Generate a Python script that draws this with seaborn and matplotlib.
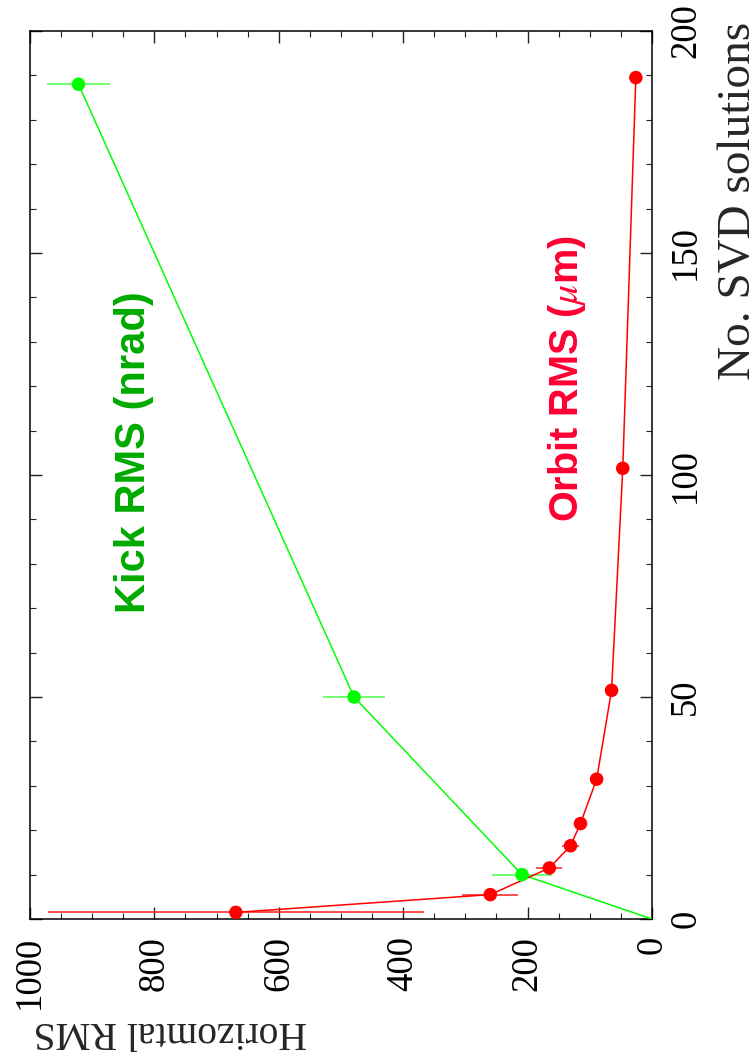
import matplotlib
matplotlib.use("Agg")
import matplotlib.pyplot as plt
import seaborn as sns
from matplotlib.ticker import MultipleLocator

# ---- data ----
svd_orbit = [1.5, 5.5, 11.5, 16.5, 21.5, 31.5, 51.5, 101.5, 189.5]
orbit_rms = [669, 260, 165, 131, 115, 89, 65, 47, 26]
orbit_err = [302, 45, 21, 13, 5, 3, 2, 1, 1]

svd_kick = [0, 10, 50, 188]
kick_rms = [0, 209, 479, 922]
kick_err = [0, 49, 50, 51]

rms_ticks = [0, 200, 400, 600, 800, 1000]
svd_ticks = [0, 50, 100, 150, 200]

sns.set_style("ticks")
plt.rcParams['font.family'] = ['Liberation Serif', 'DejaVu Serif']
plt.rcParams['mathtext.fontset'] = 'stix'

fig = plt.figure(figsize=(7.49, 10.61), dpi=100)
ax = fig.add_axes([0.0400, 0.1338, 0.8305, 0.8370])

# kick RMS (green)
ax.errorbar(kick_rms[1:], svd_kick[1:], xerr=kick_err[1:], fmt='none',
            ecolor='#66ff66', elinewidth=1.3, capsize=0, zorder=2)
sns.lineplot(x=kick_rms, y=svd_kick, sort=False, estimator=None,
             color='#00ff00', lw=1.1, ax=ax, zorder=3)
sns.scatterplot(x=kick_rms[1:], y=svd_kick[1:], color='#00ff00', s=95,
                edgecolor='none', ax=ax, zorder=4)

# orbit RMS (red)
ax.errorbar(orbit_rms, svd_orbit, xerr=orbit_err, fmt='none',
            ecolor='#ff2020', alpha=0.85, elinewidth=1.3, capsize=0, zorder=2)
sns.lineplot(x=orbit_rms, y=svd_orbit, sort=False, estimator=None,
             color='#ff0000', lw=1.1, ax=ax, zorder=3)
sns.scatterplot(x=orbit_rms, y=svd_orbit, color='#ff0000', s=95,
                edgecolor='none', ax=ax, zorder=4)

ax.set_xlim(1000, 0)
ax.set_ylim(0, 200)
ax.set_xticks(rms_ticks)
ax.set_yticks(svd_ticks)
ax.xaxis.set_minor_locator(MultipleLocator(50))
ax.yaxis.set_minor_locator(MultipleLocator(10))

ax.tick_params(which='both', direction='in', top=True, right=True, left=True,
               bottom=True, labelleft=False, labelright=True, labelbottom=True,
               colors='#222222')
ax.tick_params(which='major', length=8.6, width=1.0)
ax.tick_params(which='minor', length=4.3, width=0.8)
ax.tick_params(axis='x', labelrotation=90, labelsize=26.5, pad=12, labelcolor='black')
ax.tick_params(axis='y', labelrotation=90, labelsize=26.5, pad=12, labelcolor='black')
plt.setp(ax.get_yticklabels(), va='center')

for sp in ax.spines.values():
    sp.set_visible(True)
    sp.set_color('black')
    sp.set_linewidth(1.1)

ax.set_xlabel("Horizomtal RMS", rotation=180, fontsize=28.5, va='center', ha='center')
ax.xaxis.set_label_coords(0.225, -0.127)
ax.yaxis.set_label_position('right')
ax.set_ylabel("No. SVD solutions", rotation=90, fontsize=34, va='center', ha='center')
ax.yaxis.set_label_coords(1.140, 0.809)

ax.text(0.167, 0.526, "Kick RMS (nrad)", transform=ax.transAxes, rotation=90,
        ha='center', va='center', color='#00aa00', fontsize=30,
        fontweight='bold', family=['Liberation Sans', 'DejaVu Sans'])
ax.text(0.863, 0.609, "Orbit RMS ($\\mu$m)", transform=ax.transAxes, rotation=90,
        ha='center', va='center', color='#ff0033', fontsize=28.5,
        fontweight='bold', family=['Liberation Sans', 'DejaVu Sans'])

fig.savefig("out.png", dpi=100)
